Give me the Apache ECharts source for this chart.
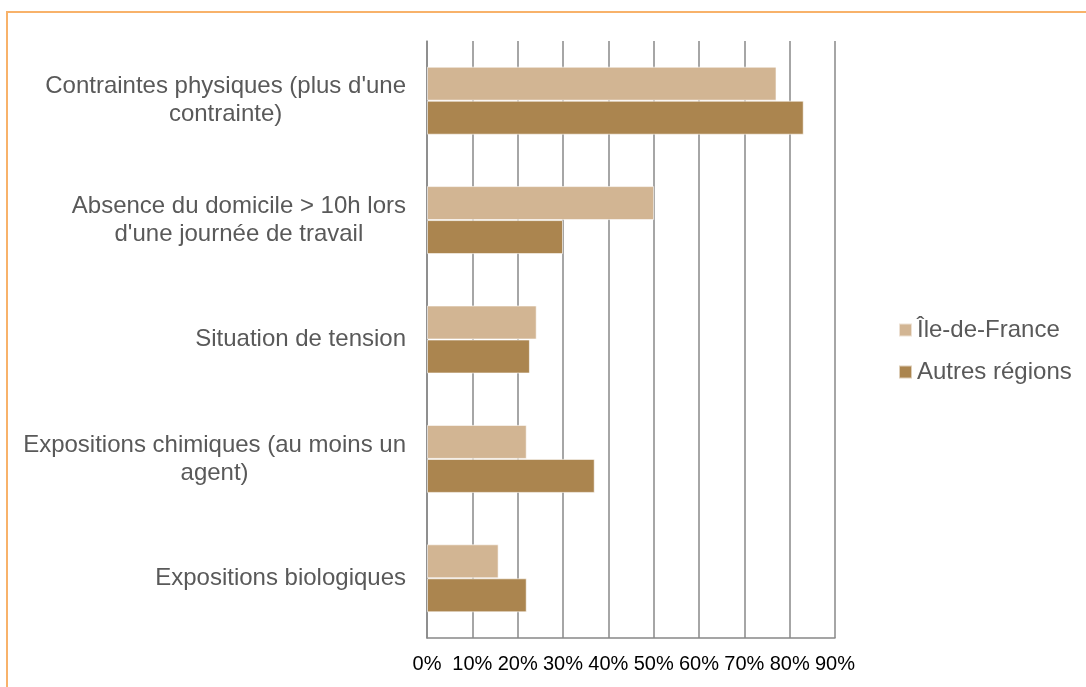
<!DOCTYPE html>
<html>
<head>
<meta charset="utf-8">
<script src="https://cdn.jsdelivr.net/npm/echarts@6/dist/echarts.min.js"></script>
<style>
  html, body { margin: 0; padding: 0; background: #fff; overflow: hidden; }
  #frame {
    position: absolute; left: 6px; top: 11px; width: 1200px; height: 800px;
    border: 2px solid #f8b26a; box-sizing: border-box;
  }
  #chart { position: absolute; left: 0; top: 0; width: 1086px; height: 687px; }
</style>
</head>
<body>
<div id="frame"></div>
<div id="chart"></div>
<script>
// categories, top to bottom
const categories = [
  "Contraintes physiques (plus d'une\ncontrainte)",
  'Absence du domicile > 10h lors\nd\'une journée de travail',
  'Situation de tension',
  'Expositions chimiques (au moins un\nagent)',
  'Expositions biologiques'
]
const seriesNames = ['Île-de-France', 'Autres régions']
const ileDeFrance = [77.1, 50.1, 24.2, 22.0, 15.8]
const autresRegions = [83.1, 30.0, 22.7, 37.0, 22.0]
const colors = ['#d2b593', '#ab854f']

const chart = echarts.init(document.getElementById('chart'))
const gridColor = '#888'

chart.setOption({
  animation: false,
  textStyle: { fontFamily: 'Liberation Sans, Arial, sans-serif' },
  grid: { left: 427, right: 251, top: 41, bottom: 49 },
  legend: {
    orient: 'vertical',
    left: 893,
    top: 313,
    icon: 'rect',
    itemWidth: 13,
    itemHeight: 13,
    itemGap: 18,
    data: seriesNames,
    textStyle: { fontSize: 24, color: '#595959', lineHeight: 24 }
  },
  xAxis: {
    type: 'value',
    min: 0,
    max: 90,
    interval: 10,
    axisLine: { show: true, lineStyle: { color: gridColor, width: 1.5 } },
    axisTick: { show: false },
    splitLine: { show: true, lineStyle: { color: gridColor, width: 1.5 } },
    axisLabel: {
      formatter: '{value}%',
      color: '#000',
      fontSize: 20,
      margin: 16
    }
  },
  yAxis: {
    type: 'category',
    inverse: true,
    data: categories,
    axisLine: { show: true, lineStyle: { color: gridColor, width: 1.5 } },
    axisTick: { show: false },
    axisLabel: {
      margin: 21,
      align: 'right',
      formatter: (val) => val.split('\n').map(l => '{c|' + l + '}').join('\n'),
      rich: {
        c: { align: 'center', fontSize: 24, lineHeight: 28, color: '#595959' }
      }
    }
  },
  series: [
    {
      name: seriesNames[0],
      type: 'bar',
      data: ileDeFrance,
      barWidth: 34,
      barGap: '0%',
      itemStyle: { color: colors[0], borderColor: 'rgba(255,255,255,0.6)', borderWidth: 1 }
    },
    {
      name: seriesNames[1],
      type: 'bar',
      data: autresRegions,
      barWidth: 34,
      barGap: '0%',
      itemStyle: { color: colors[1], borderColor: 'rgba(255,255,255,0.6)', borderWidth: 1 }
    }
  ]
})
</script>
</body>
</html>
